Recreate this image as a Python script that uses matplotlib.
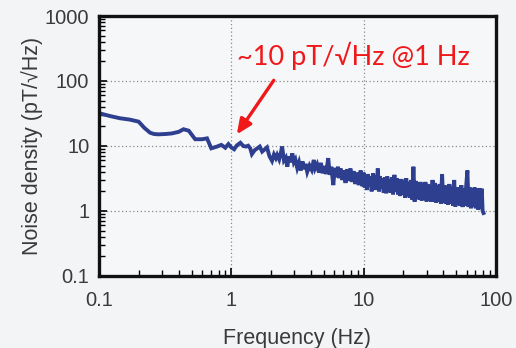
import matplotlib
matplotlib.use('Agg')
import matplotlib.pyplot as plt
import numpy as np

# magnetometer noise spectrum
freq_low = [0.1, 0.12, 0.144, 0.17, 0.199, 0.22, 0.243, 0.26, 0.281, 0.32, 0.355,
            0.40, 0.435, 0.476, 0.533, 0.6, 0.655, 0.705, 0.78, 0.84, 0.9, 0.95]
noise_low = [32, 29, 26.7, 25.5, 23.7, 19, 16, 15.3, 15.1, 15.3, 15.6,
             16.5, 18.1, 17.2, 12.7, 12.7, 13.1, 9.2, 9.8, 10.4, 9.4, 10.7]

freq_mid = [1.0, 1.05, 1.1, 1.17, 1.23, 1.29, 1.34, 1.39, 1.43, 1.5,
            1.57, 1.64, 1.71, 1.78, 1.86, 1.94, 2.03, 2.1, 2.17, 2.22,
            2.3, 2.36, 2.42, 2.5, 2.58, 2.65, 2.72, 2.8, 2.89, 2.97]
noise_mid = [9.5, 8.9, 10.2, 11.2, 10.0, 9.8, 10.1, 9.2, 7.5, 8.6,
             9.2, 9.8, 8.2, 8.8, 9.5, 7.0, 5.9, 7.4, 6.5, 7.3,
             6.2, 7.6, 9.8, 6.0, 6.6, 4.8, 6.9, 5.6, 7.7, 5.6]

freq_band = [3.05, 3.15, 3.25, 3.35, 3.45, 3.55, 3.65, 3.75, 3.9, 4.05,
             4.2, 4.3, 4.45, 4.6, 4.75, 4.9, 5.05, 5.2, 5.4, 5.55,
             5.7, 5.9, 6.05, 6.2, 6.4, 6.55, 6.7, 6.9, 7.1, 7.3,
             7.5, 7.7, 7.95, 8.15, 8.4, 8.65, 8.9, 9.2, 9.5, 9.8]
noise_band = [6.2, 4.6, 5.6, 4.2, 5.8, 4.4, 5.3, 4.0, 5.0, 4.3,
              6.1, 4.5, 5.2, 3.9, 5.5, 3.8, 4.9, 3.7, 6.5, 3.6,
              4.8, 2.5, 4.6, 3.3, 4.8, 3.2, 4.5, 3.0, 4.2, 2.7,
              4.4, 2.9, 4.5, 2.8, 4.1, 2.6, 3.9, 2.5, 4.2, 2.4]

freq_high = [10.0, 10.2, 10.4, 10.6, 10.8, 11.0, 11.3, 11.5, 11.8, 12.0,
             12.3, 12.5, 12.8, 13.1, 13.3, 13.6, 13.9, 14.2, 14.5, 14.8,
             15.1, 15.4, 15.7, 16.0, 16.4, 16.7, 17.1, 17.4, 17.8, 18.2,
             18.5, 18.9, 19.3, 19.7, 20.1, 20.6, 21.0, 21.4, 21.9, 22.3,
             22.8, 23.3, 23.8, 24.3, 24.8, 25.3, 25.8, 26.4, 26.9, 27.5,
             28.1, 28.7, 29.3, 29.9, 30.5, 31.2, 31.8, 32.5, 33.2, 33.9,
             34.6, 35.3, 36.1, 36.8, 37.6, 38.4, 39.2, 40.0, 40.9, 41.8,
             42.6, 43.5, 44.5, 45.4, 46.4, 47.4, 48.4, 49.4, 50.4, 51.5,
             52.6, 53.7, 54.8, 56.0, 57.2, 58.4, 59.6, 60.9, 62.2, 63.5,
             64.8, 66.2, 67.6, 69.0, 70.5, 72.0, 73.5, 75.0, 76.6, 78.2,
             79.4, 80.6]
noise_high = [3.9, 2.3, 3.6, 2.1, 3.7, 2.4, 3.4, 2.0, 3.8, 2.2,
              3.5, 2.1, 4.5, 2.0, 3.4, 2.2, 3.2, 1.9, 3.3, 1.87,
              3.4, 2.0, 3.1, 1.9, 3.3, 1.8, 3.6, 2.0, 3.2, 1.8,
              3.0, 1.7, 3.1, 1.8, 2.9, 1.6, 3.2, 1.7, 2.8, 1.6,
              3.0, 1.5, 4.8, 1.39, 2.9, 1.6, 2.7, 1.5, 2.8, 1.45,
              2.6, 1.5, 2.8, 1.4, 2.6, 1.45, 2.5, 1.39, 3.0, 1.4,
              2.7, 1.35, 2.5, 1.4, 2.6, 1.3, 3.7, 1.35, 2.5, 1.3,
              2.4, 1.25, 2.6, 1.3, 2.4, 1.2, 3.0, 1.17, 2.3, 1.25,
              2.3, 1.2, 2.5, 1.15, 2.2, 1.2, 2.4, 4.2, 1.15, 2.3,
              1.1, 2.2, 1.15, 2.3, 1.1, 2.2, 1.05, 2.25, 1.1, 2.2,
              1.0, 0.93]

freq = freq_low + freq_mid + freq_band + freq_high
noise = noise_low + noise_mid + noise_band + noise_high

xticks = [0.1, 1, 10, 100]
xtick_labels = ['0.1', '1', '10', '100']
yticks = [0.1, 1, 10, 100, 1000]
ytick_labels = ['0.1', '1', '10', '100', '1000']

note = '~10 pT/\u221aHz @1 Hz'

plt.rcParams['font.family'] = ['Liberation Sans', 'DejaVu Sans']
text_col = '#3a3a3a'

fig = plt.figure(figsize=(5.16, 3.48), dpi=100, facecolor='#f3f4f6')
ax = fig.add_axes([0.192, 0.207, 0.769, 0.747])
ax.set_facecolor('#f6f7f9')

ax.plot(freq, noise, color='#2e3f8f', lw=2.8, solid_joinstyle='miter')

ax.set_xscale('log')
ax.set_yscale('log')
ax.set_xlim(0.1, 100)
ax.set_ylim(0.1, 1000)
ax.set_xticks(xticks)
ax.set_xticklabels(xtick_labels)
ax.set_yticks(yticks)
ax.set_yticklabels(ytick_labels)

ax.grid(True, which='major', ls=(0, (1, 2)), color='#8a8a8a', lw=0.9)
ax.tick_params(which='major', direction='in', length=6, width=1.2,
               labelsize=14.5, labelcolor=text_col)
ax.tick_params(which='minor', direction='in', length=4, width=1.0)
ax.tick_params(axis='x', which='major', pad=11)
ax.tick_params(axis='y', which='major', pad=7)
for s in ax.spines.values():
    s.set_linewidth(2.4)
    s.set_color('#111111')

ax.set_xlabel('Frequency (Hz)', fontsize=15.5, color=text_col, labelpad=13)
ax.set_ylabel('Noise density (pT/\u221aHz)', fontsize=15.5, color=text_col, labelpad=1)

ax.annotate('', xy=(1.07, 13.9), xytext=(2.15, 111),
            arrowprops=dict(arrowstyle='-|>,head_length=0.9,head_width=0.4',
                            color='#f01818', lw=2.4))
ax.text(1.11, 176, note, color='#f01818', fontsize=19.5,
        family=['Lato', 'DejaVu Sans'], va='baseline', ha='left')

fig.savefig('out.png', dpi=100, facecolor=fig.get_facecolor())
